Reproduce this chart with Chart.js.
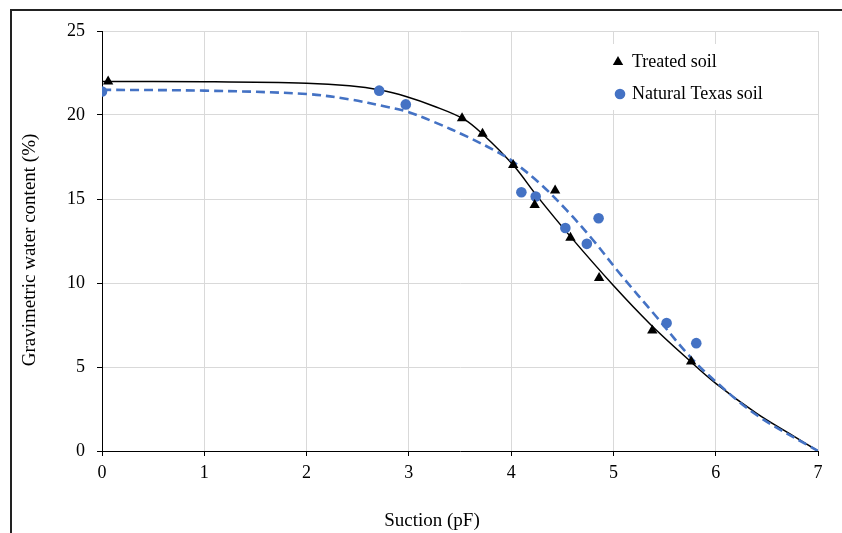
<!DOCTYPE html>
<html><head><meta charset="utf-8">
<script src="https://cdn.jsdelivr.net/npm/chart.js@4"></script>
<style>
html,body{margin:0;padding:0;background:#fff;}
#wrap{position:relative;width:842px;height:533px;overflow:hidden;}
#frame{position:absolute;left:10px;top:9px;width:840px;height:530px;border-top:2px solid #222;border-left:2px solid #222;pointer-events:none;}
canvas{position:absolute;left:0;top:0;}
</style></head><body>
<div id="wrap"><canvas id="c" width="842" height="533"></canvas><div id="frame"></div></div>
<script>
// ---- data ----
const xTickLabels = ['0','1','2','3','4','5','6','7'];
const yTickLabels = ['0','5','10','15','20','25'];
const seriesNames = ['Treated soil', 'Natural Texas soil'];
const xTitle = 'Suction (pF)';
const yTitle = 'Gravimetric water content (%)';

const treatedX = [0.06, 3.52, 3.72, 4.02, 4.23, 4.43, 4.58, 4.86, 5.38, 5.76];
const treatedY = [22.0, 19.8, 18.88, 17.02, 14.65, 15.5, 12.7, 10.3, 7.18, 5.33];

const naturalX = [0.0, 2.71, 2.97, 4.10, 4.24, 4.53, 4.74, 4.855, 5.52, 5.81];
const naturalY = [21.4, 21.45, 20.63, 15.4, 15.15, 13.27, 12.33, 13.85, 7.62, 6.42];

const treatedFitX = [0, 1, 2, 2.42, 2.72, 2.98, 3.24, 3.53, 3.72, 4.02, 4.25, 4.58, 5.0, 5.36, 5.75, 6.0, 6.4, 6.73, 7.0];
const treatedFitY = [22.0, 21.98, 21.89, 21.74, 21.49, 21.09, 20.54, 19.78, 18.87, 17.02, 15.2, 12.76, 9.85, 7.55, 5.35, 4.03, 2.24, 1.0, 0];

const naturalFitX = [0, 1, 2, 2.42, 2.78, 2.98, 3.24, 3.57, 3.89, 4.02, 4.28, 4.54, 4.80, 5.06, 5.42, 5.75, 6.0, 6.4, 7.0];
const naturalFitY = [21.5, 21.45, 21.25, 20.93, 20.49, 20.2, 19.6, 18.71, 17.72, 17.22, 15.93, 14.35, 12.56, 10.58, 7.99, 5.61, 4.13, 2.14, 0];

const pts = (xs, ys) => xs.map((x, i) => ({x: x, y: ys[i]}));
const BLUE = '#4472C4';
const FONT = "'Times New Roman', 'Liberation Serif', serif";

const overlay = {
  id: 'overlay',
  afterDraw(chart) {
    const ctx = chart.ctx;
    ctx.save();
    // axis titles
    ctx.fillStyle = '#000';
    ctx.font = '19px ' + FONT;
    ctx.textAlign = 'center';
    ctx.textBaseline = 'middle';
    ctx.fillText(xTitle, 432, 521);
    ctx.save();
    ctx.translate(30, 250);
    ctx.rotate(-Math.PI / 2);
    ctx.fillText(yTitle, 0, 0);
    ctx.restore();
    // legend
    ctx.fillStyle = '#fff';
    ctx.fillRect(602, 44, 200, 66);
    ctx.fillStyle = '#000';
    ctx.beginPath();
    const tx = 618, ty = 62;
    ctx.moveTo(tx, ty - 6);
    ctx.lineTo(tx + 5.2, ty + 3);
    ctx.lineTo(tx - 5.2, ty + 3);
    ctx.closePath();
    ctx.fill();
    ctx.fillStyle = BLUE;
    ctx.beginPath();
    ctx.arc(620, 94, 5.3, 0, Math.PI * 2);
    ctx.fill();
    ctx.fillStyle = '#000';
    ctx.font = '18px ' + FONT;
    ctx.textAlign = 'left';
    ctx.fillText(seriesNames[0], 632, 62);
    ctx.fillText(seriesNames[1], 632, 94);
    ctx.restore();
  }
};

new Chart(document.getElementById('c'), {
  type: 'scatter',
  data: {
    datasets: [
      { label: seriesNames[0], data: pts(treatedX, treatedY), pointStyle: 'triangle',
        pointRadius: 6, pointHoverRadius: 6, backgroundColor: '#000', borderColor: '#000', borderWidth: 0, order: 0 },
      { label: seriesNames[1], data: pts(naturalX, naturalY), pointStyle: 'circle',
        pointRadius: 5.3, pointHoverRadius: 5.3, backgroundColor: BLUE, borderColor: BLUE, borderWidth: 0, order: 0 },
      { label: seriesNames[1] + ' fit', data: pts(naturalFitX, naturalFitY), showLine: true, pointRadius: 0,
        borderColor: BLUE, borderWidth: 2.6, borderDash: [9, 5], tension: 0.35, fill: false, order: 1 },
      { label: seriesNames[0] + ' fit', data: pts(treatedFitX, treatedFitY), showLine: true, pointRadius: 0,
        borderColor: '#000', borderWidth: 1.5, tension: 0.35, fill: false, order: 1 }
    ]
  },
  options: {
    responsive: false,
    animation: false,
    devicePixelRatio: 1,
    layout: { padding: { top: 31, right: 24, left: 0, bottom: 0 } },
    plugins: { legend: { display: false }, tooltip: { enabled: false }, title: { display: false } },
    scales: {
      x: {
        type: 'linear', min: 0, max: 7,
        afterBuildTicks: s => { s.ticks = xTickLabels.map(v => ({ value: Number(v) })); },
        ticks: { color: '#000', font: { family: FONT, size: 18 }, padding: 6, callback: v => String(v), maxRotation: 0 },
        grid: { color: '#d9d9d9', lineWidth: 1, tickColor: '#000', tickLength: 5 },
        border: { color: '#000', width: 1 },
        afterFit: s => { s.height = 82; }
      },
      y: {
        type: 'linear', min: 0, max: 25,
        afterBuildTicks: s => { s.ticks = yTickLabels.map(v => ({ value: Number(v) })); },
        ticks: { color: '#000', font: { family: FONT, size: 18 }, padding: 12, callback: v => String(v) },
        grid: { color: '#d9d9d9', lineWidth: 1, tickColor: '#000', tickLength: 5 },
        border: { color: '#000', width: 1 },
        afterFit: s => { s.width = 102; }
      }
    }
  },
  plugins: [overlay]
});
</script>
</body></html>
